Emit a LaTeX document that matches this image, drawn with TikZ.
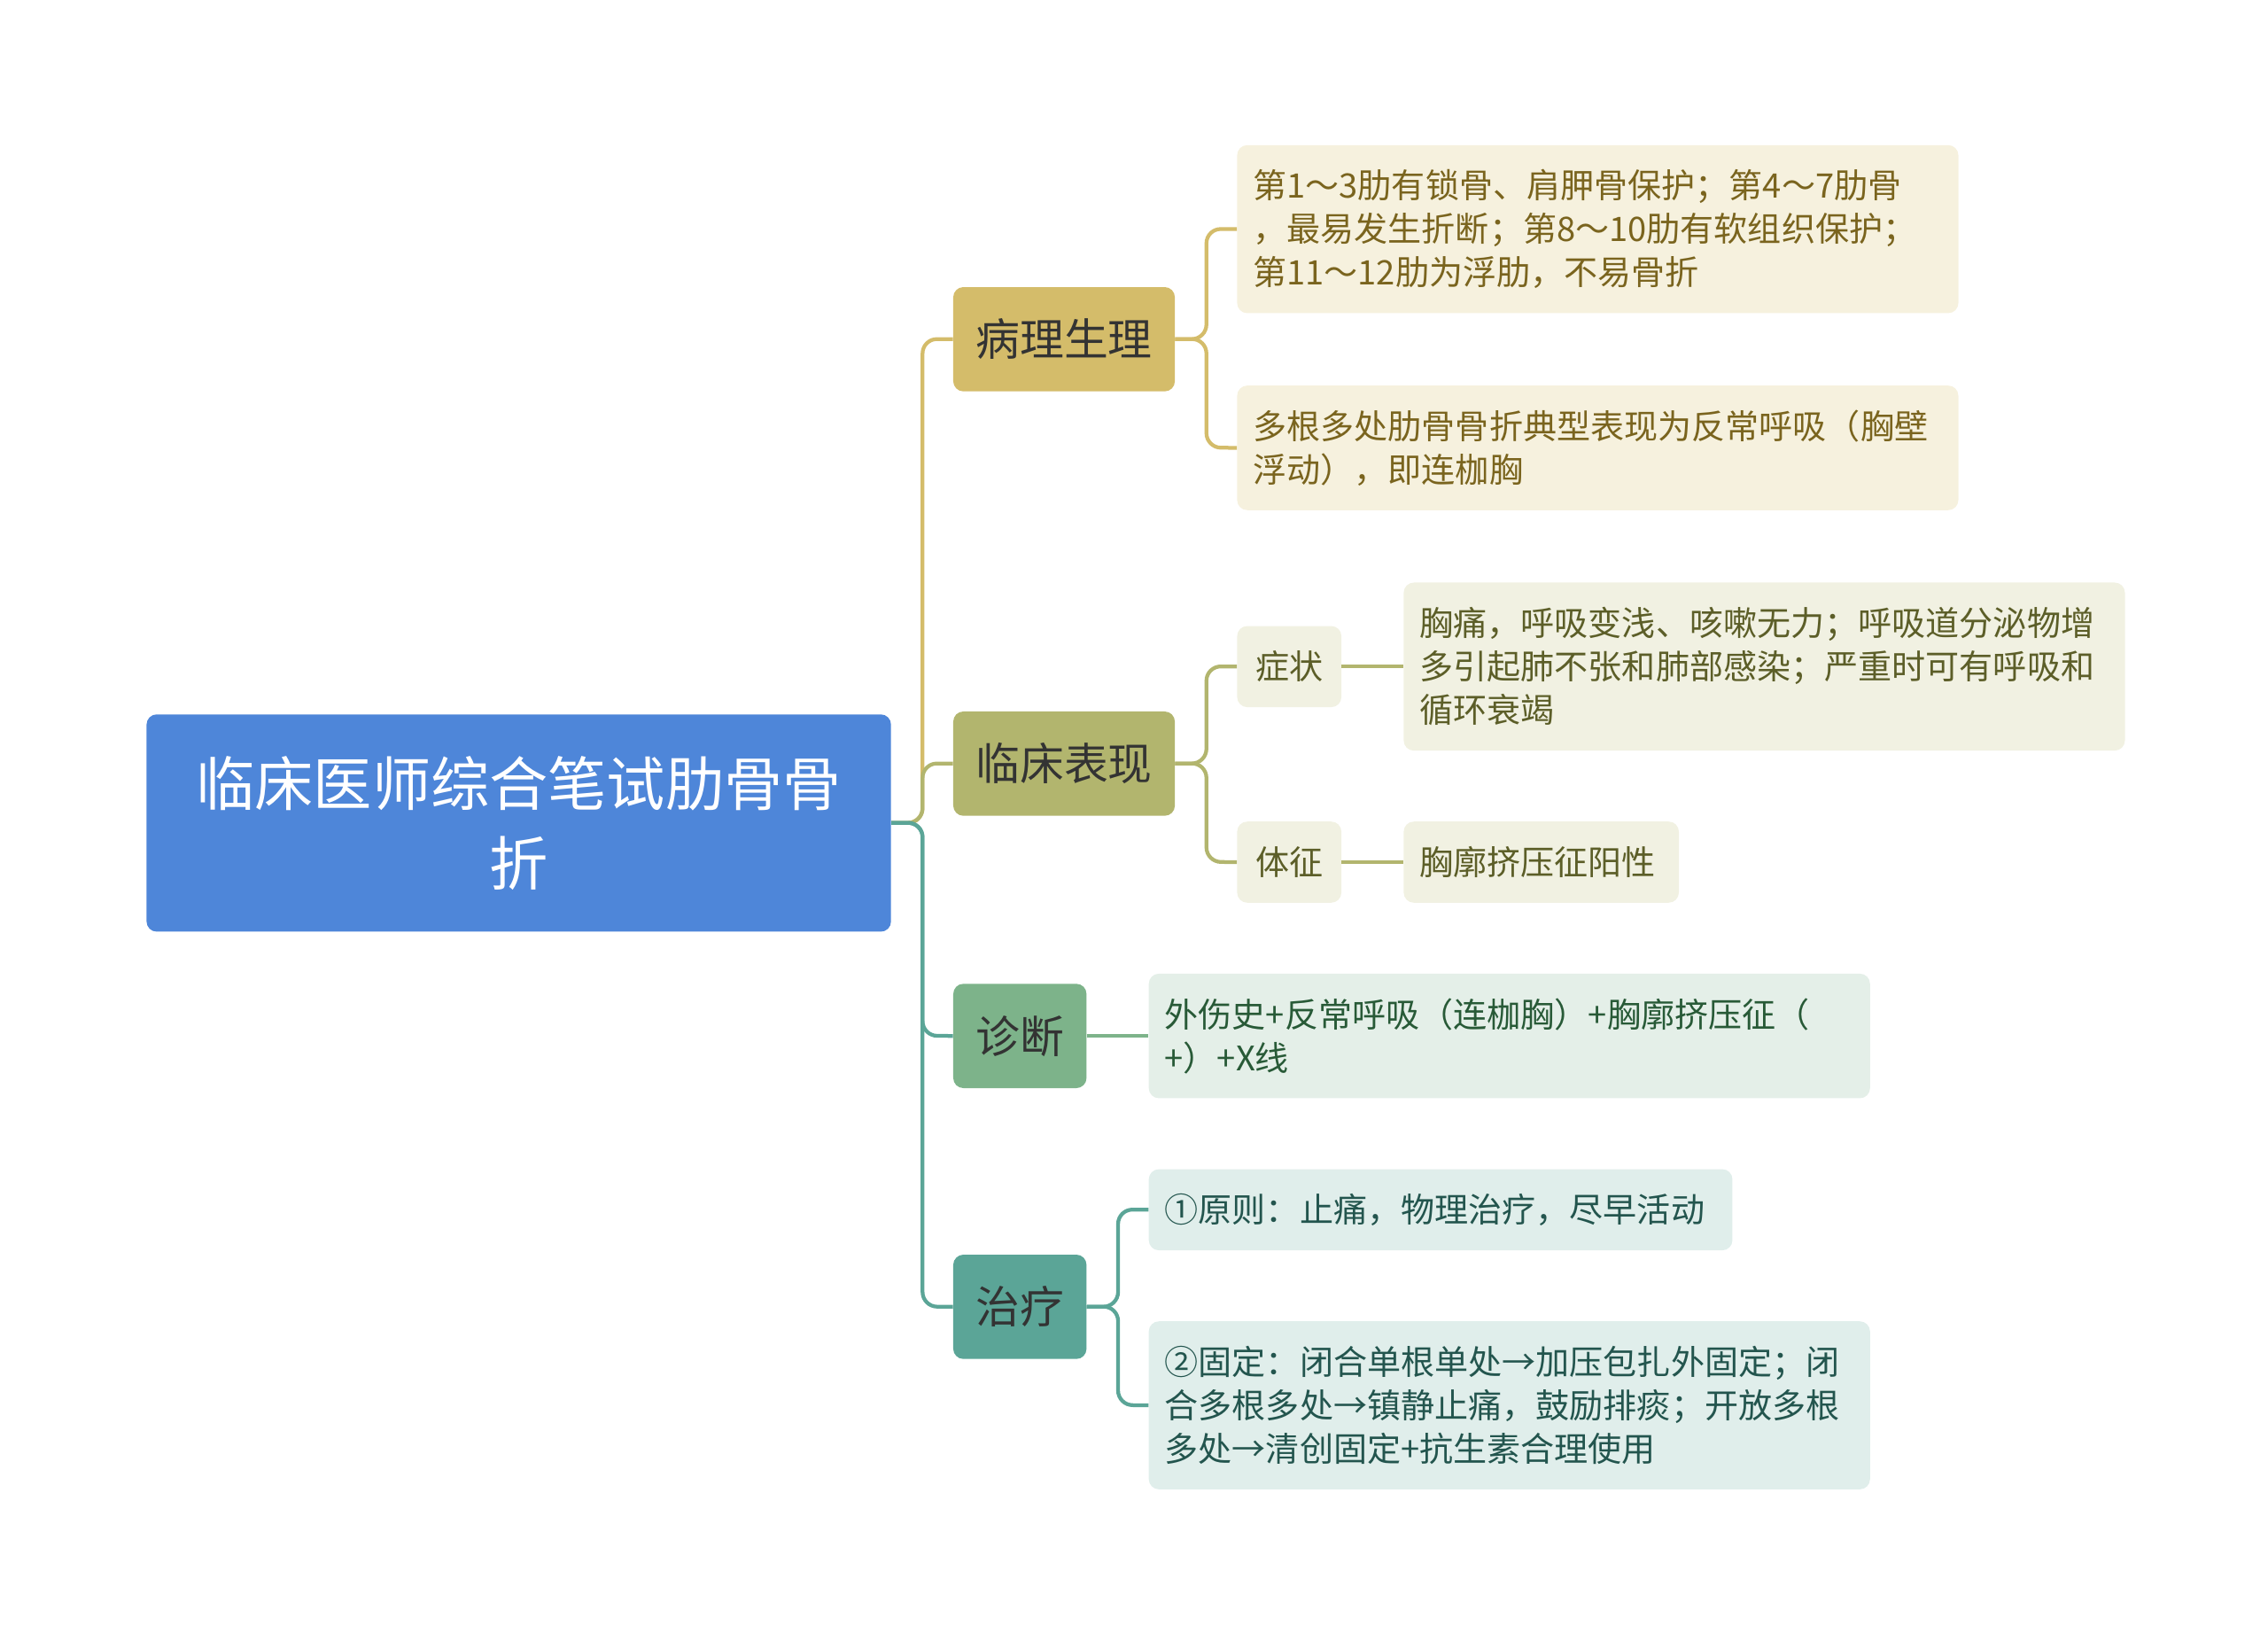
\documentclass[tikz,border=0pt]{standalone}
\usepackage{fontspec}
\setmainfont{Noto Sans CJK SC}
\begin{document}
\begin{tikzpicture}[x=1pt,y=-1pt,
 box/.style={rounded corners=7pt,inner sep=0pt,anchor=north west},
 leaf/.style={box,font=\fontsize{23.3}{30}\selectfont,align=left},
 kid/.style={box,font=\fontsize{30.5}{34}\selectfont,text=black!80,align=center},
 ln/.style={line width=2.6pt,rounded corners=10pt}]
\definecolor{cA}{HTML}{D4BC6A}\definecolor{cB}{HTML}{B2B56E}
\definecolor{cC}{HTML}{7DB38A}\definecolor{cD}{HTML}{5BA597}
\useasboundingbox (0,0) rectangle (1566,1127);
\node[box,fill={rgb,255:red,78;green,134;blue,217},minimum width=514pt,minimum height=150pt,text=white,font=\fontsize{40.5}{55}\selectfont,align=center] (root) at (101,493) {临床医师综合笔试肋骨骨\\折};
\node[kid,fill=cA,minimum width=153pt,minimum height=72pt] (a) at (658,198) {病理生理};
\node[kid,fill=cB,minimum width=153pt,minimum height=72pt] (b) at (658,491) {临床表现};
\node[kid,fill=cC,minimum width=92pt,minimum height=72pt] (c) at (658,679) {诊断};
\node[kid,fill=cD,minimum width=92pt,minimum height=72pt] (d) at (658,866) {治疗};
\tikzset{tA/.style={leaf,fill={rgb,255:red,246;green,241;blue,222},text={rgb,255:red,122;green,100;blue,30}},
 tB/.style={leaf,fill={rgb,255:red,241;green,241;blue,226},text={rgb,255:red,92;green,94;blue,40}},
 tC/.style={leaf,fill={rgb,255:red,228;green,239;blue,232},text={rgb,255:red,40;green,90;blue,55}},
 tD/.style={leaf,fill={rgb,255:red,224;green,238;blue,235},text={rgb,255:red,35;green,85;blue,78}}}
\node[tA,minimum width=498pt,minimum height=116pt,text width=476pt] (a1) at (854,100) {第1～3肋有锁骨、肩胛骨保护；第4～7肋骨\\，最易发生折断；第8～10肋有软组织保护；\\第11～12肋为浮肋，不易骨折};
\node[tA,minimum width=498pt,minimum height=86pt,text width=476pt] (a2) at (854,266) {多根多处肋骨骨折典型表现为反常呼吸（胸壁\\浮动），即连枷胸};
\node[tB,minimum width=72pt,minimum height=56pt,align=center] (b1) at (854,432) {症状};
\node[tB,minimum width=498pt,minimum height=116pt,text width=476pt] (b1l) at (969,402) {胸痛，呼吸变浅、咳嗽无力；呼吸道分泌物增\\多引起肺不张和肺部感染；严重时可有呼吸和\\循环衰竭};
\node[tB,minimum width=72pt,minimum height=56pt,align=center] (b2) at (854,567) {体征};
\node[tB,minimum width=190pt,minimum height=56pt,text width=168pt] (b2l) at (969,567) {胸廓挤压征阳性};
\node[tC,minimum width=498pt,minimum height=86pt,text width=476pt] (c1) at (793,672) {外伤史+反常呼吸（连枷胸）+胸廓挤压征（\\+）+X线};
\node[tD,minimum width=403pt,minimum height=56pt,text width=381pt] (d1) at (793,807) {①原则：止痛，物理治疗，尽早活动};
\node[tD,minimum width=498pt,minimum height=116pt,text width=476pt] (d2) at (793,912) {②固定：闭合单根单处→加压包扎外固定；闭\\合多根多处→镇静止痛，鼓励排痰；开放多根\\多处→清创固定+抗生素合理使用};
% connectors
\draw[ln,cA] (root.east) -- (637,568) -- (637,234) -- (a.west);
\draw[ln,cB] (root.east) -- (637,568) -- (637,527) -- (b.west);
\draw[ln,cD] (root.east) -- (637,568) -- (637,715) -- (c.west);
\draw[ln,cD] (root.east) -- (637,568) -- (637,902) -- (d.west);
\draw[ln,cA] (a.east) -- (833,234) -- (833,158) -- (a1.west);
\draw[ln,cA] (a.east) -- (833,234) -- (833,309) -- (a2.west);
\draw[ln,cB] (b.east) -- (833,527) -- (833,460) -- (b1.west);
\draw[ln,cB] (b.east) -- (833,527) -- (833,595) -- (b2.west);
\draw[ln,cB] (b1.east) -- (b1l.west|-b1.east);
\draw[ln,cB] (b2.east) -- (b2l.west);
\draw[ln,cC] (c.east) -- (c1.west|-c.east);
\draw[ln,cD] (d.east) -- (772,902) -- (772,835) -- (d1.west);
\draw[ln,cD] (d.east) -- (772,902) -- (772,970) -- (d2.west);
\end{tikzpicture}
\end{document}
